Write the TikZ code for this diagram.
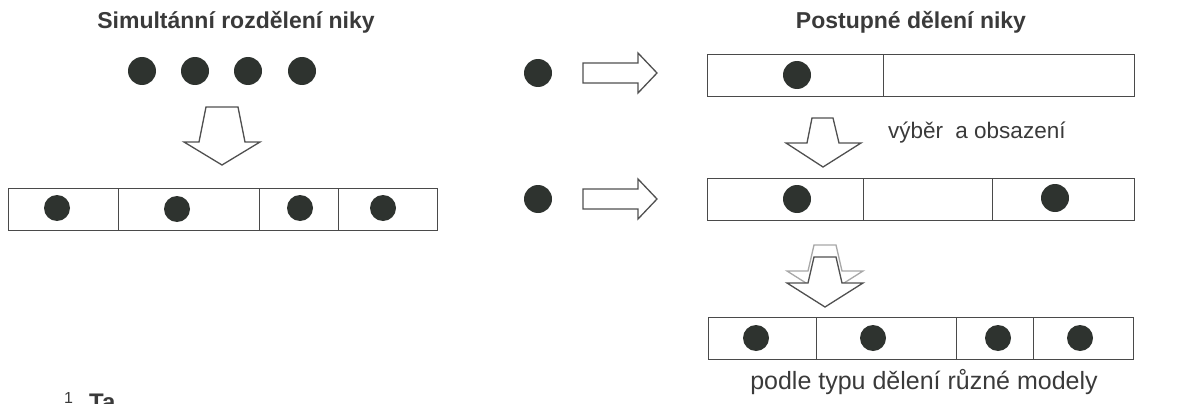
\documentclass[tikz,border=0pt]{standalone}
\usepackage{fontspec}
\setmainfont{Liberation Sans}
\definecolor{inkgray}{HTML}{3A3A3A}
\definecolor{linegray}{HTML}{4A4A4A}
\definecolor{dotgray}{HTML}{2E332F}
\definecolor{arrowgray}{HTML}{505050}
\definecolor{ghostgray}{HTML}{A8A8A8}
\begin{document}
\begin{tikzpicture}[x=1pt,y=-1pt,
  cell/.style={rectangle,draw=linegray,line width=1.4pt,inner sep=0pt,
    anchor=north west,minimum height=42pt},
  seed/.style={circle,fill=dotgray,inner sep=0pt,minimum size=28pt},
  seedsm/.style={seed,minimum size=26pt},
  blockarrow/.style={draw=arrowgray,line width=1.3pt,fill=white,line join=miter},
  ghostarrow/.style={draw=ghostgray,line width=1.3pt,fill=white,line join=miter},
  title/.style={font=\fontsize{23}{27}\selectfont\bfseries,text=inkgray,inner sep=0pt},
  caption/.style={text=inkgray,inner sep=0pt}]
\useasboundingbox (0,0) rectangle (1186,404);
\clip (0,0) rectangle (1186,404);

% ---------- left: simultaneous division ----------
\node[title,anchor=base] (titleL) at (236,29) {Simultánní rozdělení niky};

\node[seed] (s1) at (142,71) {};
\node[seed] (s2) at (195,71) {};
\node[seed] (s3) at (248,71) {};
\node[seed] (s4) at (302,71) {};

\draw[blockarrow] (206,107) -- (238,107) -- (245,142) -- (260,142) -- (222,165)
  -- (184,142) -- (199,142) -- cycle;

\node[cell,minimum width=110pt] (L1) at (8,188) {};
\node[cell,minimum width=141pt] (L2) at (118,188) {};
\node[cell,minimum width=79pt]  (L3) at (259,188) {};
\node[cell,minimum width=99pt]  (L4) at (338,188) {};
\node[seedsm] (l1) at (57,208) {};
\node[seedsm] (l2) at (177,209) {};
\node[seedsm] (l3) at (300,208) {};
\node[seedsm] (l4) at (383,208) {};

% ---------- right: stepwise division ----------
\node[title,anchor=base] (titleR) at (911,29) {Postupné dělení niky};

% first step
\node[seed] (a1) at (538,73) {};
\draw[blockarrow] (583,63) -- (638,63) -- (638,53) -- (657,73) -- (638,93)
  -- (638,83) -- (583,83) -- cycle;
\node[cell,minimum width=176pt] (A1) at (707,54) {};
\node[cell,minimum width=251pt] (A2) at (883,54) {};
\node[seed] (a2) at (797,75) {};

\draw[blockarrow] (812,118) -- (833,118) -- (839,143) -- (861,143) -- (823,167)
  -- (786,143) -- (807,143) -- cycle;
\node[caption,anchor=base west,font=\fontsize{22.5}{26}\selectfont] (pick)
  at (888,138) {výběr\hspace{6pt} a obsazení};

% second step
\node[seed] (b1) at (538,199) {};
\draw[blockarrow] (583,189) -- (638,189) -- (638,179) -- (657,199) -- (638,219)
  -- (638,209) -- (583,209) -- cycle;
\node[cell,minimum width=156pt] (B1) at (707,178) {};
\node[cell,minimum width=129pt] (B2) at (863,178) {};
\node[cell,minimum width=142pt] (B3) at (992,178) {};
\node[seed] (b2) at (797,199) {};
\node[seed] (b3) at (1055,198) {};

% final arrow with its faint shadow copy
\draw[ghostarrow] (814,245) -- (836,245) -- (842,271) -- (863,271) -- (825,295)
  -- (787,271) -- (808,271) -- cycle;
\draw[blockarrow] (814,257) -- (836,257) -- (842,283) -- (863,283) -- (825,307)
  -- (787,283) -- (808,283) -- cycle;

\node[cell,minimum width=108pt] (C1) at (708,317) {};
\node[cell,minimum width=140pt] (C2) at (816,317) {};
\node[cell,minimum width=77pt]  (C3) at (956,317) {};
\node[cell,minimum width=100pt] (C4) at (1033,317) {};
\node[seedsm] (c1) at (756,338) {};
\node[seedsm] (c2) at (873,338) {};
\node[seedsm] (c3) at (998,338) {};
\node[seedsm] (c4) at (1080,338) {};

\node[caption,anchor=base,font=\fontsize{25}{29}\selectfont] (models)
  at (924,389) {podle typu dělení různé modely};

% footnote line running off the bottom edge
\node[caption,anchor=north west,font=\fontsize{16}{18}\selectfont] (fnum)
  at (64,392) {1};
\node[caption,anchor=north west,font=\fontsize{24}{28}\selectfont\bfseries] (fword)
  at (89,394) {Ta};
\end{tikzpicture}
\end{document}
